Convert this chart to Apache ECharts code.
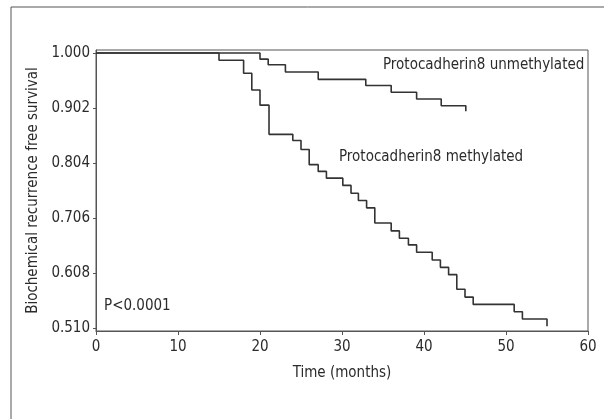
<!DOCTYPE html>
<html>
<head>
    <meta http-equiv="Content-Type" content="text/html; charset=UTF-8">
    <title>ECharts</title>
    <script src="https://cdn.jsdelivr.net/npm/echarts@6/dist/echarts.min.js"></script>
    <style>
        html, body { margin: 0; padding: 0; background: #fff; }
    </style>
</head>
<body>
<div id="kmChart" style="width: 604px; height: 419px;"></div>

<script type="text/javascript">
    // Kaplan-Meier steps
    var monthsUnmeth = [0, 20.0, 21.0, 23.1, 27.1, 32.9, 36.0, 39.1, 42.1, 45.1];
    var survUnmeth   = [1.000, 0.989, 0.979, 0.966, 0.953, 0.942, 0.930, 0.918, 0.906, 0.896];

    var monthsMeth = [0, 15, 18, 19, 20, 21.1, 24, 25, 26, 27.1, 28.1, 30.1, 31.1, 32, 33, 34,
                      36, 37, 38.1, 39.1, 41, 42, 43, 44, 45, 46, 51, 52, 55];
    var survMeth   = [1.000, 0.987, 0.964, 0.934, 0.907, 0.855, 0.844, 0.828, 0.801, 0.789, 0.777,
                      0.764, 0.750, 0.737, 0.724, 0.697, 0.683, 0.670, 0.658, 0.645, 0.631, 0.618,
                      0.605, 0.579, 0.565, 0.552, 0.539, 0.526, 0.513];

    var yTicks = [0.510, 0.608, 0.706, 0.804, 0.902, 1.000];

    var seriesNames = ['Protocadherin8 unmethylated', 'Protocadherin8 methylated'];

    var font = "'Liberation Sans Narrow', 'DejaVu Sans Condensed', sans-serif";
    var ink = '#2b2b2b';

    function pairs(xs, ys) {
        var res = [];
        for (var i = 0; i < xs.length; i++) {
            res.push([xs[i], ys[i]]);
        }
        return res;
    }

    var kmChart = echarts.init(document.getElementById('kmChart'));

    kmChart.setOption({
        animation: false,
        backgroundColor: '#fff',
        grid: {
            left: 96,
            right: 16,
            top: 50,
            bottom: 88,
            show: true,
            borderColor: '#555',
            borderWidth: 1
        },
        xAxis: {
            type: 'value',
            min: 0,
            max: 60,
            interval: 10,
            name: 'Time (months)',
            nameLocation: 'middle',
            nameGap: 35,
            nameTextStyle: { color: ink, fontSize: 15, fontFamily: font },
            splitLine: { show: false },
            axisLine: { lineStyle: { color: '#555' } },
            axisTick: { length: 4, lineStyle: { color: '#555' } },
            axisLabel: { color: ink, fontSize: 15, fontFamily: font, margin: 9 }
        },
        yAxis: {
            type: 'value',
            min: 0.5046,
            max: 1.0053,
            name: 'Biochemical recurrence free survival',
            nameLocation: 'middle',
            nameRotate: 90,
            nameGap: 51,
            nameTextStyle: { color: ink, fontSize: 15, fontFamily: font },
            splitLine: { show: false },
            axisLine: { lineStyle: { color: '#555' } },
            axisTick: { length: 3, customValues: yTicks, lineStyle: { color: '#555' } },
            axisLabel: {
                color: ink, fontSize: 15, fontFamily: font, margin: 6,
                customValues: yTicks,
                formatter: function (v) { return v.toFixed(3); }
            }
        },
        graphic: [
            {
                type: 'polyline',
                shape: { points: [[11, 419], [11, 7], [604, 7]] },
                style: { stroke: '#555', lineWidth: 1, fill: null },
                silent: true
            },
            {
                type: 'text', left: 383, top: 58,
                style: { text: seriesNames[0], fill: ink, font: '15px ' + font }
            },
            {
                type: 'text', left: 339, top: 150,
                style: { text: seriesNames[1], fill: ink, font: '15px ' + font }
            },
            {
                type: 'text', left: 104, top: 299,
                style: { text: 'P<0.0001', fill: ink, font: '15px ' + font }
            }
        ],
        series: [
            {
                name: seriesNames[0],
                type: 'line',
                step: 'end',
                showSymbol: false,
                lineStyle: { color: '#333', width: 1.6 },
                data: pairs(monthsUnmeth, survUnmeth)
            },
            {
                name: seriesNames[1],
                type: 'line',
                step: 'end',
                showSymbol: false,
                lineStyle: { color: '#333', width: 1.6 },
                data: pairs(monthsMeth, survMeth)
            }
        ]
    });
</script>

</body>
</html>
